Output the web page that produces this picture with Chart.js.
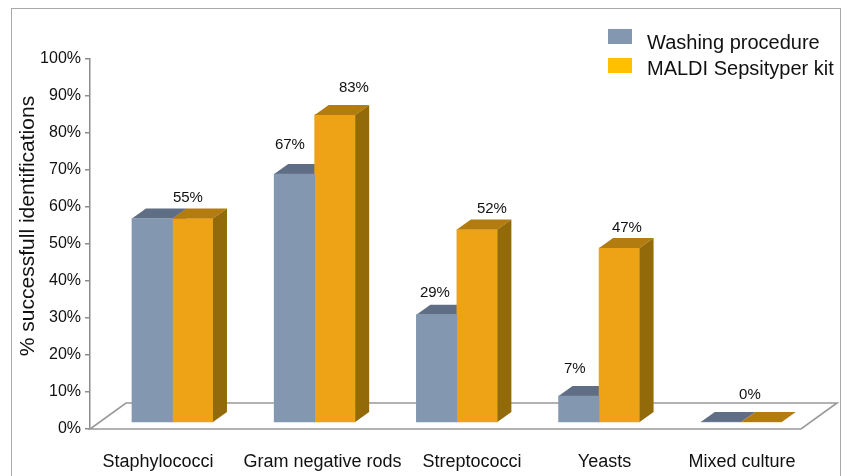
<!DOCTYPE html>
<html><head><meta charset="utf-8">
<script src="https://cdn.jsdelivr.net/npm/chart.js@4/dist/chart.umd.min.js"></script>
<style>html,body{margin:0;padding:0;background:#fff}canvas{display:block}</style>
</head><body>
<canvas id="c" width="848" height="476"></canvas>
<script>
// ---- data ----
const categories = ['Staphylococci', 'Gram negative rods', 'Streptococci', 'Yeasts', 'Mixed culture'];
const seriesNames = ['Washing procedure', 'MALDI Sepsityper kit'];
const washingValues = [55, 67, 29, 7, 0];
const sepsityperValues = [55, 83, 52, 47, 0];
const yTicks = [0, 10, 20, 30, 40, 50, 60, 70, 80, 90, 100];
const yTitle = '% successfull identifications';

// ---- style ----
const FONT = "'Liberation Sans', Arial, Helvetica, sans-serif";
const frontColors = ['#8497B0', '#EEA316'];
const faceColors = [{top: '#5F6E84', side: '#56657A'}, {top: '#B37C10', side: '#936A0A'}];
const legendColors = ['#8497B0', '#FFC000'];
const BAR_DEPTH = {dx: 14, dy: -10};
const FLOOR_DEPTH = {dx: 36, dy: -26};
// category label placement shift (in category units) as laid out in the original figure
const categoryLabelShift = [-0.022, 0.135, 0.186, 0.118, 0.085];
// value-label placement nudges relative to each bar's top, px (null = label not shown)
const labelNudge = [
  [null, [-4.5, -29], [-1.7, -22], [-4, -27], null],
  [[-4.8, -20.5], [19, -27], [14.8, -20.6], [7.6, -20], [-11.6, -27]]
];

function barFaces(ctx, el, c) {
  const p = el.getProps(['x', 'y', 'base', 'width'], true);
  const L = p.x - p.width / 2, R = p.x + p.width / 2;
  const T = Math.min(p.y, p.base), B = Math.max(p.y, p.base);
  const dx = BAR_DEPTH.dx, dy = BAR_DEPTH.dy;
  ctx.fillStyle = c.top;
  ctx.beginPath();
  ctx.moveTo(L, T); ctx.lineTo(R, T); ctx.lineTo(R + dx, T + dy); ctx.lineTo(L + dx, T + dy);
  ctx.closePath(); ctx.fill();
  ctx.fillStyle = c.side;
  ctx.beginPath();
  ctx.moveTo(R, T); ctx.lineTo(R + dx, T + dy); ctx.lineTo(R + dx, B + dy); ctx.lineTo(R, B);
  ctx.closePath(); ctx.fill();
}

const threeD = {
  id: 'threeD',
  beforeDraw(chart) {
    const ctx = chart.ctx;
    ctx.save();
    ctx.fillStyle = '#fff';
    ctx.fillRect(0, 0, chart.width, chart.height);
    ctx.strokeStyle = '#A8A8A8';
    ctx.lineWidth = 1;
    ctx.strokeRect(11.5, 8.5, 829, 500);
    ctx.restore();
  },
  beforeDatasetsDraw(chart) {
    const ctx = chart.ctx, a = chart.chartArea;
    const y0 = chart.scales.y.getPixelForValue(0);
    ctx.save();
    ctx.fillStyle = '#fff';
    ctx.strokeStyle = '#999';
    ctx.lineWidth = 1.6;
    ctx.beginPath();
    ctx.moveTo(a.left, y0);
    ctx.lineTo(a.right, y0);
    ctx.lineTo(a.right + FLOOR_DEPTH.dx, y0 + FLOOR_DEPTH.dy);
    ctx.lineTo(a.left + FLOOR_DEPTH.dx, y0 + FLOOR_DEPTH.dy);
    ctx.closePath();
    ctx.fill(); ctx.stroke();
    chart.getDatasetMeta(0).data.forEach(el => barFaces(ctx, el, faceColors[0]));
    ctx.restore();
  },
  afterDatasetsDraw(chart) {
    const ctx = chart.ctx;
    ctx.save();
    chart.getDatasetMeta(1).data.forEach(el => barFaces(ctx, el, faceColors[1]));
    // value labels
    ctx.font = '15px ' + FONT;
    ctx.fillStyle = '#111';
    ctx.textAlign = 'center';
    ctx.textBaseline = 'middle';
    chart.data.datasets.forEach((ds, d) => {
      chart.getDatasetMeta(d).data.forEach((el, i) => {
        const n = labelNudge[d][i];
        if (!n) return;
        const p = el.getProps(['x', 'y'], true);
        ctx.fillText(ds.data[i].y + '%', p.x + n[0], p.y + n[1]);
      });
    });
    // y axis title
    const ys = chart.scales.y;
    ctx.save();
    ctx.translate(28, (ys.top + ys.bottom) / 2 - 18);
    ctx.rotate(-Math.PI / 2);
    ctx.font = '21px ' + FONT;
    ctx.fillStyle = '#111';
    ctx.textAlign = 'center';
    ctx.textBaseline = 'middle';
    ctx.fillText(yTitle, 0, 0);
    ctx.restore();
    // legend
    ctx.font = '20px ' + FONT;
    ctx.textAlign = 'left';
    ctx.textBaseline = 'alphabetic';
    seriesNames.forEach((name, k) => {
      ctx.fillStyle = legendColors[k];
      ctx.fillRect(608, 29 + k * 29, 24, 15);
      ctx.fillStyle = '#111';
      ctx.fillText(name, 647, 49 + k * 26);
    });
    ctx.restore();
  }
};

new Chart(document.getElementById('c'), {
  type: 'bar',
  data: {
    labels: categories,
    datasets: [
      {label: seriesNames[0], data: washingValues.map((v, i) => ({x: i, y: v})),
       backgroundColor: frontColors[0], borderWidth: 0, xAxisID: 'x2', yAxisID: 'y2', barThickness: 40.5},
      {label: seriesNames[1], data: sepsityperValues.map((v, i) => ({x: i, y: v})),
       backgroundColor: frontColors[1], borderWidth: 0, xAxisID: 'x2', yAxisID: 'y2', barThickness: 40.5}
    ]
  },
  options: {
    responsive: false,
    animation: false,
    devicePixelRatio: 1,
    layout: {padding: {left: 0, right: 47, top: 59, bottom: 0}},
    plugins: {legend: {display: false}, tooltip: {enabled: false}},
    scales: {
      x: {
        type: 'linear', position: 'bottom', min: -0.5, max: 4.5, offset: false,
        afterBuildTicks: s => { s.ticks = categories.map((c, i) => ({value: i + categoryLabelShift[i]})); },
        grid: {display: false, drawTicks: false},
        border: {display: false},
        ticks: {font: {family: FONT, size: 18}, color: '#111', padding: 22, maxRotation: 0, autoSkip: false,
                callback: (v, i) => categories[i]},
        afterFit: s => { s.height = 47; }
      },
      y: {
        type: 'linear', position: 'left', min: 0, max: 100,
        afterBuildTicks: s => { s.ticks = yTicks.map(v => ({value: v})); },
        ticks: {font: {family: FONT, size: 16}, color: '#111', padding: 4, callback: v => v + '%'},
        grid: {display: true, drawOnChartArea: false, drawTicks: true, tickLength: 5, color: '#8C8C8C', lineWidth: 1.5},
        border: {display: true, color: '#8C8C8C', width: 1.5},
        title: {display: false, text: yTitle},
        afterFit: s => { s.width = 90; }
      },
      x2: {type: 'linear', display: false, min: -0.58, max: 4.42, offset: false},
      y2: {type: 'linear', display: false, min: -1.892, max: 98.108}
    }
  },
  plugins: [threeD]
});
</script>
</body></html>
